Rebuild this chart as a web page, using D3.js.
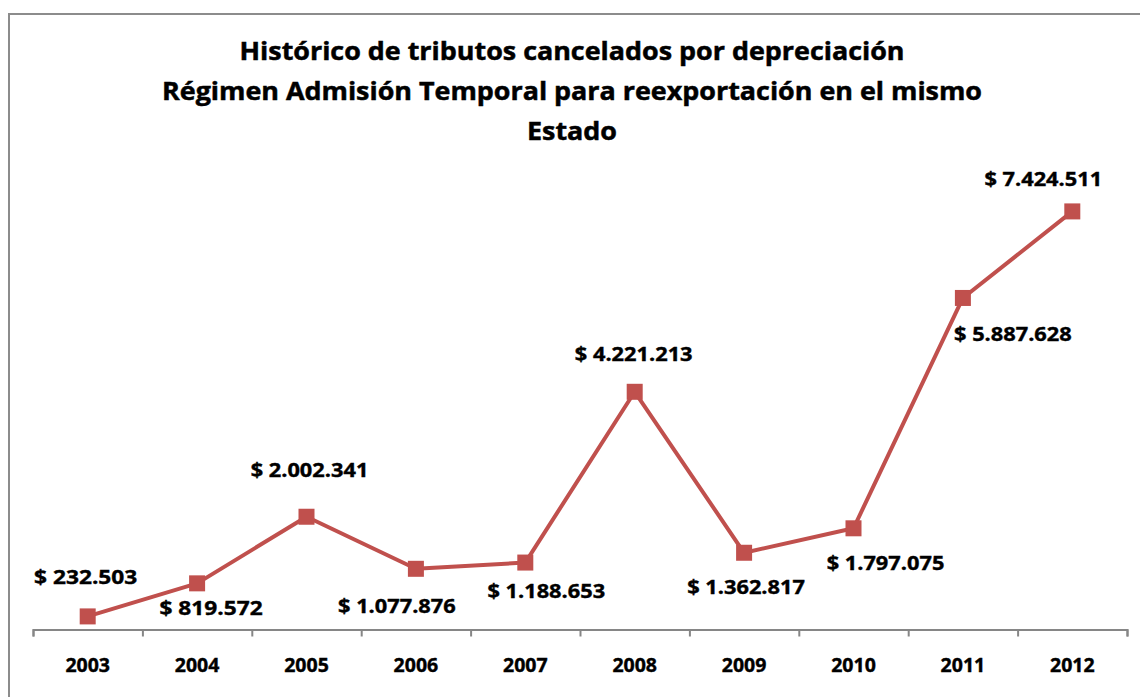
<!DOCTYPE html>
<html>
<head>
<meta charset="utf-8">
<script src="https://cdn.jsdelivr.net/npm/d3@7.9.0/dist/d3.min.js"></script>
<style>
  body { margin: 0; background: #fff; }
  svg { display: block; font-family: 'Open Sans', 'Liberation Sans', sans-serif; }
</style>
</head>
<body>
<svg id="chart" width="1140" height="697"></svg>
<script>
const years = ['2003', '2004', '2005', '2006', '2007', '2008', '2009', '2010', '2011', '2012'];
const values = [232503, 819572, 2002341, 1077876, 1188653, 4221213, 1362817, 1797075, 5887628, 7424511];
const titleLines = [
  'Histórico de tributos cancelados por depreciación',
  'Régimen Admisión Temporal para reexportación en el mismo',
  'Estado'
];
// where each value label sits relative to its point
const labelOffsets = [[-2, -40], [14, 24], [3, -47], [-19, 37], [21, 28], [-1, -38], [2, 34], [32, 34], [50, 36], [-29, -33]];

const red = '#C0504D';
const svg = d3.select('#chart');

// outer chart border
svg.append('rect')
  .attr('x', 9).attr('y', 14)
  .attr('width', 1160).attr('height', 720)
  .attr('fill', 'none')
  .attr('stroke', '#8c8c8c')
  .attr('stroke-width', 2);

// title
const titleWidths = [665, 820, 90];
svg.selectAll('text.title')
  .data(titleLines)
  .join('text')
  .attr('class', 'title')
  .attr('x', 572)
  .attr('y', (d, i) => 60 + i * 40)
  .attr('text-anchor', 'middle')
  .attr('font-size', 25.5)
  .attr('font-weight', 'bold')
  .attr('stroke', '#000')
  .attr('stroke-width', 0.5)
  .attr('textLength', (d, i) => titleWidths[i])
  .attr('lengthAdjust', 'spacingAndGlyphs')
  .text(d => d);

const x = d3.scaleBand().domain(years).range([33, 1127]).padding(0);
const y = d3.scaleLinear().domain([0, 8000000]).range([629.5, 179]);
const cx = d => x(d) + x.bandwidth() / 2;

// category axis, ticks between categories
const tickScale = d3.scaleLinear().domain([0, years.length]).range([33, 1127]);
const axis = svg.append('g')
  .attr('transform', 'translate(0,629.5)')
  .call(d3.axisBottom(tickScale).ticks(years.length).tickSize(7).tickFormat(''));
axis.select('.domain').attr('stroke', '#868686').attr('stroke-width', 2);
axis.selectAll('.tick line').attr('stroke', '#868686').attr('stroke-width', 2);

svg.selectAll('text.year')
  .data(years)
  .join('text')
  .attr('class', 'year')
  .attr('x', d => cx(d))
  .attr('y', 672)
  .attr('text-anchor', 'middle')
  .attr('font-size', 19.5)
  .attr('font-weight', 'bold')
  .attr('stroke', '#000')
  .attr('stroke-width', 0.4)
  .text(d => d);

const points = years.map((yr, i) => ({ year: yr, value: values[i], off: labelOffsets[i] }));

const line = d3.line().x(d => cx(d.year)).y(d => y(d.value));
svg.append('path')
  .datum(points)
  .attr('d', line)
  .attr('fill', 'none')
  .attr('stroke', red)
  .attr('stroke-width', 4)
  .attr('stroke-linejoin', 'round');

svg.selectAll('rect.marker')
  .data(points)
  .join('rect')
  .attr('class', 'marker')
  .attr('x', d => cx(d.year) - 8)
  .attr('y', d => y(d.value) - 8)
  .attr('width', 16)
  .attr('height', 16)
  .attr('fill', red);

const fmt = v => '$ ' + d3.format(',')(v).replace(/,/g, '.');
svg.selectAll('text.val')
  .data(points)
  .join('text')
  .attr('class', 'val')
  .attr('x', d => cx(d.year) + d.off[0])
  .attr('y', d => y(d.value) + d.off[1])
  .attr('dy', '0.36em')
  .attr('text-anchor', 'middle')
  .attr('font-size', 20)
  .attr('font-weight', 'bold')
  .attr('stroke', '#000')
  .attr('stroke-width', 0.4)
  .text(d => fmt(d.value))
  .each(function () {
    // Calibri in the original renders wider, but with narrower dots
    const w = this.getComputedTextLength();
    const dots = (fmt.call(null, d3.select(this).datum().value).match(/\./g) || []).length;
    d3.select(this).attr('textLength', w * 1.2 - dots * 6).attr('lengthAdjust', 'spacingAndGlyphs');
  });
</script>
</body>
</html>
